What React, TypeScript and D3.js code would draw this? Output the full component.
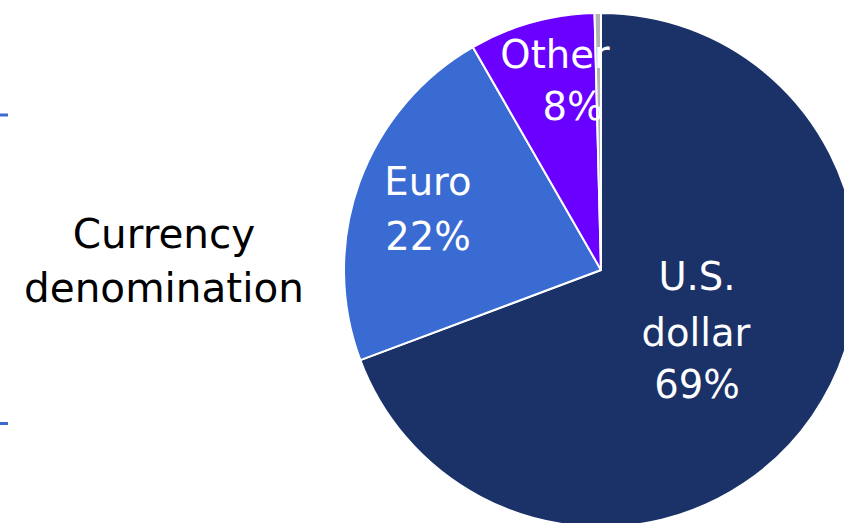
import React from "react";
import * as d3 from "d3";

const categories = ["U.S. dollar", "Euro", "Other", "Unallocated"];
const shares = [69.3, 22.4, 7.9, 0.4];
const labelLines = [["U.S.", "dollar", "69%"], ["Euro", "22%"], ["Other", "8%"], []];
const sideTitle = ["Currency", "denomination"];

const colors = ["#1b3268", "#3a6bd3", "#6a00ff", "#b3b3b3"];
// label line anchors [x, baseline y] per slice line
const labelLayout: [number, number][][] = [
  [[697, 290], [696, 346], [697, 398]],
  [[428, 195], [428, 250]],
  [[555, 68], [573, 120]],
  [],
];

export default function App() {
  const W = 844, H = 523;
  const cx = 601, cy = 270, r = 257;
  const data = categories.map((c, i) => ({ c, v: shares[i], i }));
  const pie = d3.pie<any>().value((d) => d.v).sort(null).startAngle(0).endAngle(2 * Math.PI);
  const arcs = pie(data);
  const arc = d3.arc<any>().innerRadius(0).outerRadius(r);
  const font = "'DejaVu Sans', sans-serif";
  return (
    <svg width={W} height={H} style={{ position: "absolute", left: 0, top: 0, background: "#fff" }}>
      <line x1={0} x2={8} y1={115} y2={115} stroke="#3a6bd3" strokeWidth={3} />
      <line x1={0} x2={8} y1={423.5} y2={423.5} stroke="#3a6bd3" strokeWidth={3} />
      <g transform={`translate(${cx},${cy})`}>
        {arcs.map((a, i) => (
          <path key={i} d={arc(a) as string} fill={colors[i]} stroke="#fff" strokeWidth={2} strokeLinejoin="round" />
        ))}
      </g>
      {labelLines.map((lines, i) =>
        lines.map((t, j) => (
          <text key={`${i}-${j}`} x={labelLayout[i][j][0]} y={labelLayout[i][j][1]} textAnchor="middle"
            fill="#fff" fontFamily={font} fontSize={38.5}>{t}</text>
        ))
      )}
      {sideTitle.map((t, j) => (
        <text key={j} x={164} y={248 + j * 54} textAnchor="middle" fill="#000" fontFamily={font} fontSize={40.5}>{t}</text>
      ))}
    </svg>
  );
}
